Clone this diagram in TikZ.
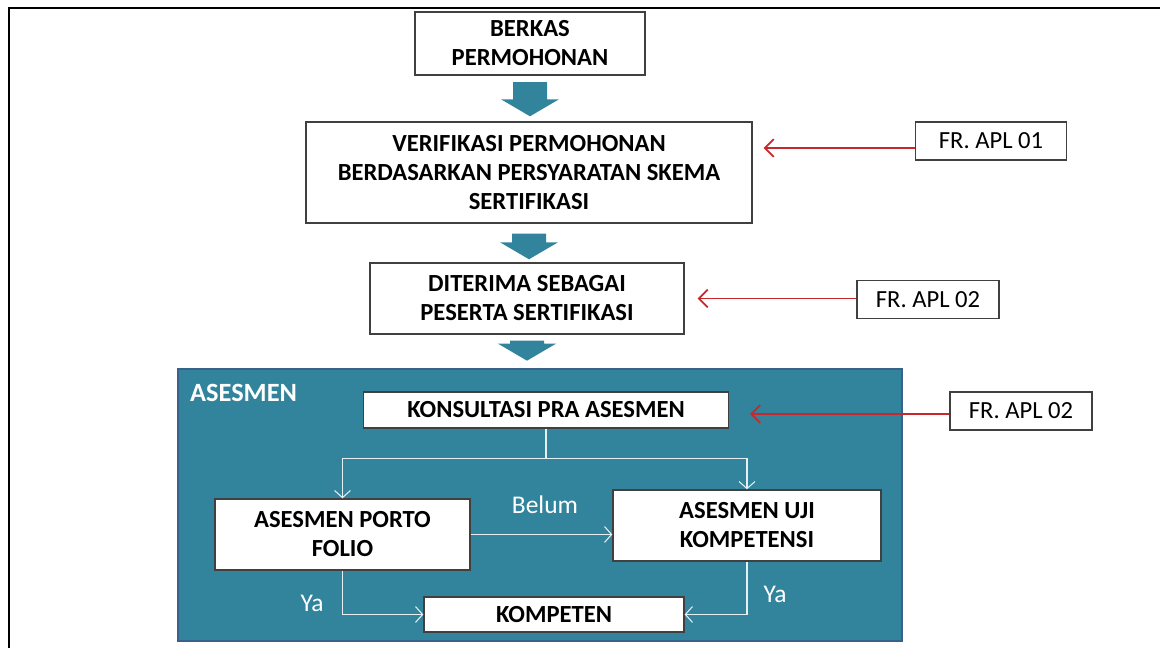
\documentclass[tikz,border=0pt]{standalone}
\usepackage{fontspec}
\setmainfont{Carlito}
\usetikzlibrary{calc, arrows.meta}
\definecolor{tealfill}{RGB}{49,132,155}
\definecolor{tealedge}{RGB}{58,96,140}
\definecolor{formred}{RGB}{200,40,45}

% block arrow between two points (top, tip)
\newcommand{\blockarrow}[2]{%
  \fill[tealfill] let \p1=(#1), \p2=(#2) in
    (\x1-0.34cm,\y1) -- (\x1+0.34cm,\y1) -- (\x1+0.34cm,\y2+0.34cm)
    -- (\x1+0.58cm,\y2+0.34cm) -- (\x1,\y2) -- (\x1-0.58cm,\y2+0.34cm)
    -- (\x1-0.34cm,\y2+0.34cm) -- cycle;}

\begin{document}
\begin{tikzpicture}[
  box/.style={draw=black!75, line width=0.8pt, fill=white, align=center,
    inner sep=0pt, font=\fontsize{14}{16.5}\selectfont\bfseries},
  form/.style={draw=black!75, line width=0.8pt, fill=white, inner sep=0pt,
    minimum width=2.84cm, minimum height=0.76cm, font=\fontsize{14}{16}\selectfont},
  flow/.style={white!88!tealfill, line width=0.6pt, -{Straight Barb[length=4pt, width=9pt]}},
  ref/.style={formred, line width=1pt, -{Straight Barb[length=5pt, width=10pt]}},
  lbl/.style={text=white, font=\fontsize{14.5}{16}\selectfont}]
  \useasboundingbox (0,0) rectangle (23.2,12.96);
  % frame
  \draw[line width=1.4pt] (0.18,0) -- (0.18,12.8) -- (23.2,12.8);

  % upper chain
  \node[box, minimum width=4.6cm, minimum height=1.26cm] (berkas) at (10.6,12.09)
    {BERKAS\\PERMOHONAN};
  \node[box, minimum width=8.92cm, minimum height=2.02cm] (verif) at (10.58,9.51)
    {VERIFIKASI PERMOHONAN\\BERDASARKAN PERSYARATAN SKEMA\\SERTIFIKASI};
  \node[box, minimum width=6.28cm, minimum height=1.42cm] (terima) at (10.54,6.99)
    {DITERIMA SEBAGAI\\PESERTA SERTIFIKASI};

  % asesmen block
  \node[draw=tealedge, line width=1.5pt, fill=tealfill, minimum width=14.48cm,
    minimum height=5.44cm] (asesmen) at (10.8,2.86) {};
  \node[anchor=base west, text=white, font=\fontsize{15}{17}\selectfont\bfseries]
    (judul) at (3.68,4.92) {ASESMEN};
  \node[box, minimum width=7.3cm, minimum height=0.72cm] (konsul) at (10.92,4.76)
    {KONSULTASI PRA ASESMEN};
  \node[box, minimum width=5.1cm, minimum height=1.42cm] (porto) at (6.85,2.27)
    {ASESMEN PORTO\\FOLIO};
  \node[box, minimum width=5.36cm, minimum height=1.42cm] (uji) at (14.94,2.45)
    {ASESMEN UJI\\KOMPETENSI};
  \node[box, minimum width=5.2cm, minimum height=0.7cm] (kompeten) at (11.08,0.67)
    {KOMPETEN};

  % forms
  \node[form, minimum width=3.02cm] (apl1) at (19.82,10.14) {FR. APL 01};
  \node[form] (apl2) at (18.56,6.97) {FR. APL 02};
  \node[form] (apl3) at (20.42,4.74) {FR. APL 02};

  % block arrows
  \blockarrow{$(berkas.south)+(0,-0.13)$}{$(verif.north)+(0,0.1)$}
  \blockarrow{$(verif.south)+(0,-0.2)$}{$(terima.north)+(0,0.06)$}
  \blockarrow{$(terima.south)+(0,-0.12)$}{$(asesmen.north -| terima.south)+(0,0.14)$}

  % flow inside
  \coordinate (cabang) at ($(konsul.south)+(0,-0.6)$);
  \draw[flow] (konsul.south) -- (cabang) -| (porto.north);
  \draw[flow] (cabang) -| (uji.north);
  \draw[flow] (porto.east) -- (porto.east -| uji.west);
  \draw[flow] (porto.south) |- (kompeten.west);
  \draw[flow] (uji.south) |- (kompeten.east);
  \node[lbl] (belum) at (10.9,2.86) {Belum};
  \node[lbl] (ya1) at (6.24,0.9) {Ya};
  \node[lbl] (ya2) at (15.5,1.08) {Ya};

  % form references
  \draw[ref] ([yshift=-0.14cm]apl1.west) -- ([xshift=0.22cm, yshift=-0.14cm]apl1.west -| verif.east);
  \draw[ref] ([yshift=0.02cm]apl2.west) -- ([xshift=0.26cm, yshift=0.02cm]apl2.west -| terima.east);
  \draw[ref] ([yshift=-0.06cm]apl3.west) -- ([xshift=0.42cm, yshift=-0.06cm]apl3.west -| konsul.east);
\end{tikzpicture}
\end{document}
